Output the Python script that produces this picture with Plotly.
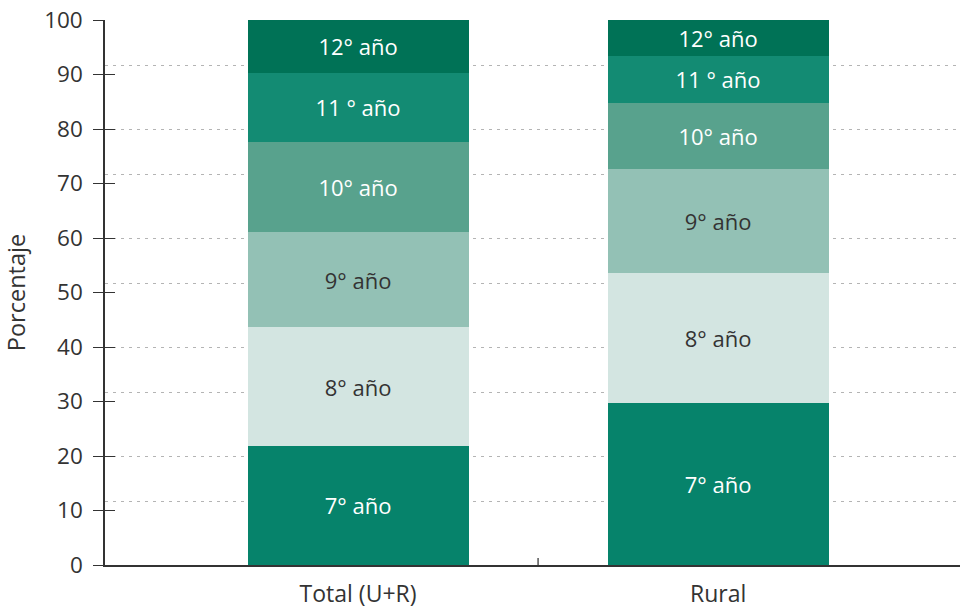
import plotly.graph_objects as go

# Categories and stacked shares (percent) per school year
categories = ["Total (U+R)", "Rural"]
grades = ["7° año", "8° año", "9° año", "10° año", "11 ° año", "12° año"]
share_total = [21.9, 21.7, 17.5, 16.5, 12.7, 9.7]
share_rural = [29.8, 23.7, 19.2, 12.1, 8.6, 6.6]

y_ticks = [0, 10, 20, 30, 40, 50, 60, 70, 80, 90, 100]
grid_levels = [11.7, 20, 31.7, 40, 51.7, 60, 71.7, 80, 91.7, 100]

bar_colors = ["#06836b", "#d3e5e1", "#93c1b5", "#58a28d", "#138b73", "#007256"]
text_colors = ["#ffffff", "#333333", "#333333", "#ffffff", "#ffffff", "#ffffff"]

FONT = "Open Sans, Noto Sans, sans-serif"
INK = "#333333"

fig = go.Figure()
x_pos = list(range(len(categories)))
for i, g in enumerate(grades):
    fig.add_trace(go.Bar(
        x=x_pos,
        y=[share_total[i], share_rural[i]],
        text=[g, g],
        textposition="inside",
        insidetextanchor="middle",
        textangle=0,
        constraintext="none",
        textfont=dict(family=FONT, size=22, color=text_colors[i]),
        marker=dict(color=bar_colors[i], line=dict(width=0)),
        width=0.614,
        name=g,
        hoverinfo="skip",
    ))

fig.update_layout(
    barmode="stack",
    width=960, height=611,
    margin=dict(l=105, r=0, t=20, b=46, autoexpand=False),
    paper_bgcolor="white", plot_bgcolor="white",
    showlegend=False,
    font=dict(family=FONT, size=22, color=INK),
    uniformtext=dict(mode=False),
    xaxis=dict(
        range=[-0.703, 1.672],
        tickvals=x_pos, ticktext=categories,
        ticks="", showgrid=False, zeroline=False,
        showline=True, linecolor=INK, linewidth=1.5,
        tickfont=dict(family=FONT, size=23, color=INK),
        ticklabelstandoff=8, automargin=False,
    ),
    # main axis carries the dotted grid only
    yaxis=dict(
        range=[0, 100], tickvals=grid_levels,
        showticklabels=False, ticks="",
        showgrid=True, gridcolor="#b4b4b4", gridwidth=1, griddash="3px,5px",
        zeroline=False, showline=False, automargin=False,
    ),
    # labelled axis with outward ticks
    yaxis2=dict(
        range=[0, 100], overlaying="y", anchor="x", side="left",
        tickvals=y_ticks, ticks="outside", ticklen=10, tickwidth=1, tickcolor=INK,
        showgrid=False, zeroline=False,
        showline=True, linecolor=INK, linewidth=1.5,
        tickfont=dict(family=FONT, size=22.5, color=INK),
        ticklabelstandoff=6, automargin=False,
        title=dict(text="Porcentaje", font=dict(family=FONT, size=23.5, color=INK), standoff=12),
    ),
    # inward halves so the ticks cross the axis line
    yaxis3=dict(
        range=[0, 100], overlaying="y", anchor="x", side="left",
        tickvals=y_ticks, ticks="inside", ticklen=10, tickwidth=1, tickcolor=INK,
        showticklabels=False, showgrid=False, zeroline=False, showline=False,
        automargin=False,
    ),
)

# invisible helpers so the overlay axes are drawn
fig.add_trace(go.Scatter(x=[None], y=[None], yaxis="y2", showlegend=False, hoverinfo="skip"))
fig.add_trace(go.Scatter(x=[None], y=[None], yaxis="y3", showlegend=False, hoverinfo="skip"))

# divider tick between the two categories, crossing the baseline
fig.add_shape(
    type="line", xref="x", yref="y",
    x0=0.5, x1=0.5, ysizemode="pixel", yanchor=0, y0=-12, y1=7,
    line=dict(color="#555555", width=1.5),
)

fig.write_html("out.html")
